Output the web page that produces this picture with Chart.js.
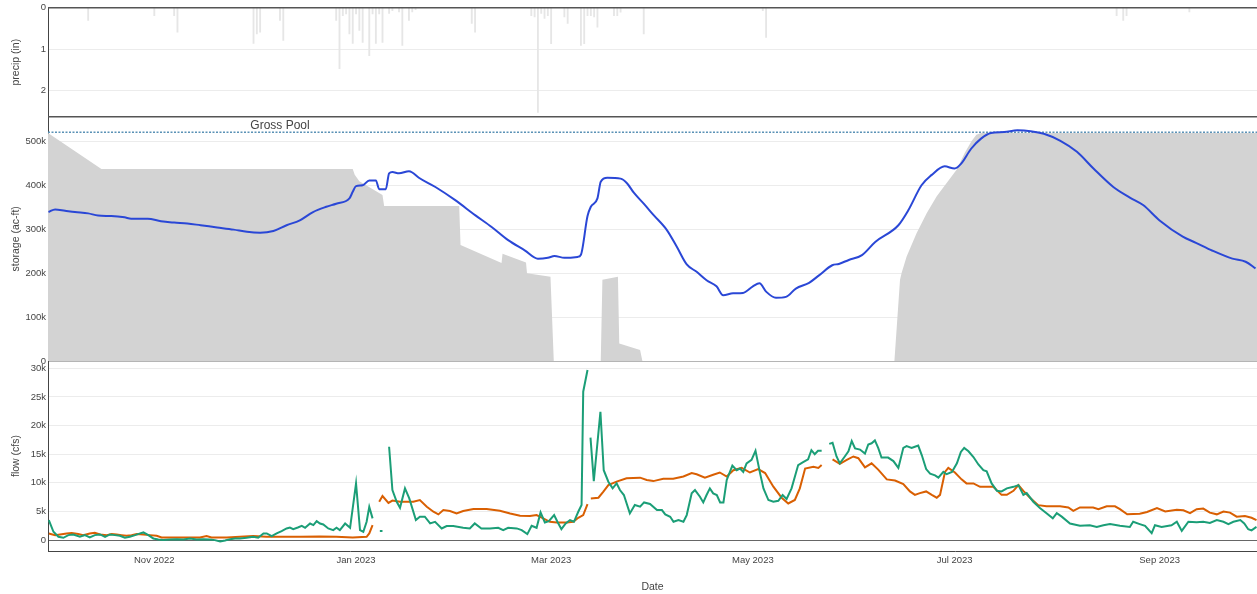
<!DOCTYPE html>
<html>
<head>
<meta charset="utf-8">
<script src="https://cdn.jsdelivr.net/npm/chart.js@4.4.0/dist/chart.umd.min.js"></script>
<style>
  html, body { margin: 0; padding: 0; background: #ffffff; }
  #wrap { width: 1257px; height: 594px; position: relative; }
</style>
</head>
<body>
<div id="wrap"><canvas id="c"></canvas></div>
<script>
// Water year 2023. Every x value is a day count from 1 Oct 2022.
const monthTickDays   = [31, 92, 151, 212, 273, 335];
const monthTickLabels = ['Nov 2022', 'Jan 2023', 'Mar 2023', 'May 2023', 'Jul 2023', 'Sep 2023'];

const precipTicks  = [0, 1, 2];
const storageTicks = [0, 100000, 200000, 300000, 400000, 500000];
const flowTicks    = [0, 5000, 10000, 15000, 20000, 25000, 30000];

// Daily precipitation (in)
const precipDay = [11, 31, 37, 38, 61, 62, 63, 69, 70, 86, 87, 88, 89, 90, 91, 92, 93, 94, 96, 97,
  98, 99, 100, 102, 103, 105, 106, 108, 109, 110, 127, 128, 145, 146, 147, 148, 149, 150, 151, 155,
  156, 160, 161, 162, 163, 164, 165, 170, 171, 172, 179, 215, 216, 322, 324, 325, 344];
const precipIn = [0.31, 0.19, 0.19, 0.59, 0.86, 0.63, 0.59, 0.31, 0.79, 0.31, 1.47, 0.19, 0.15, 0.63, 0.86, 0.15, 0.55, 0.84, 1.16, 0.15,
  0.86, 0.15, 0.84, 0.14, 0.07, 0.10, 0.91, 0.31, 0.10, 0.05, 0.38, 0.59, 0.19, 0.22, 2.53, 0.14, 0.26, 0.19, 0.87, 0.22,
  0.38, 0.91, 0.87, 0.19, 0.19, 0.22, 0.47, 0.19, 0.19, 0.11, 0.63, 0.07, 0.72, 0.19, 0.31, 0.19, 0.10];

// Reservoir storage (ac-ft)
const storageDay = [-1, 1, 4, 7, 11, 14, 18, 22, 24, 29, 33, 37, 41, 45, 50, 55, 59, 63, 67, 71,
  75, 79, 83, 86, 90, 91, 92, 94, 96, 98, 99, 101, 102, 103, 105, 108, 109, 111, 116, 122,
  128, 133, 138, 143, 147, 150, 152, 155, 159, 160, 162, 163, 165, 166, 168, 172, 174, 176, 179, 182,
  186, 189, 192, 195, 198, 201, 203, 206, 209, 212, 214, 216, 219, 222, 225, 229, 232, 236, 238, 241,
  245, 249, 256, 259, 263, 266, 270, 273, 275, 278, 281, 284, 288, 292, 296, 300, 305, 310, 315, 321,
  326, 330, 335, 342, 346, 351, 357, 361, 364];
const storageAf = [339000, 345000, 342000, 339000, 336000, 331000, 330000, 327000, 324000, 324000,
  318000, 315000, 313000, 309000, 304000, 299000, 294000, 292000, 296000, 309000,
  320000, 339000, 351000, 358000, 370000, 385000, 398000, 400000, 411000, 411000,
  391000, 391000, 427000, 430000, 427000, 432000, 429000, 417000, 396000, 366000,
  332000, 305000, 275000, 252000, 233000, 235000, 239000, 235000, 237000, 242000,
  330000, 351000, 370000, 408000, 417000, 415000, 404000, 383000, 358000, 332000,
  298000, 260000, 220000, 203000, 184000, 170000, 150000, 154000, 155000, 170000,
  177000, 158000, 144000, 146000, 165000, 178000, 195000, 218000, 221000, 230000,
  241000, 271000, 309000, 343000, 400000, 423000, 443000, 438000, 449000, 483000,
  506000, 519000, 521000, 525000, 523000, 517000, 501000, 476000, 438000, 396000,
  372000, 355000, 320000, 283000, 269000, 251000, 233000, 226000, 211000];

// Top of conservation pool (ac-ft), shaded from zero
const conservationDay = [-1.2, 15, 91, 91.6, 93, 100, 100.5, 123.2, 123.6, 136, 136.3, 143.4, 143.7, 150.8, 151.8,
  166, 166.5, 171.2, 171.6, 177.9, 178.6, 254.8, 256.5, 257, 258.5, 261.5, 264.6, 267.6, 270.6, 273.6,
  276.1, 278.1, 279.6, 281, 365];
const conservationAf = [519000, 437000, 437000, 424000, 409000, 378000, 353000, 353000, 264000, 223000, 244000, 224000, 200000, 192000, 0,
  0, 185000, 192000, 40000, 25000, 0, 0, 185000, 201000, 238000, 291000, 337000, 375000, 405000, 435000,
  474000, 500000, 515000, 519000, 519000];

const grossPoolAf = 520500;
const grossPoolLabel = 'Gross Pool';
const grossPoolLabelDay = 69;

// Inflow (cfs); null marks missing days
const inflowDay = [-0.9, 0.5, 2, 3.5, 5, 6.5, 8.5, 10, 11.5, 13, 14.6, 16.1, 17.6, 19.1, 20.6, 22.1, 23.6, 25.2, 26.7, 27.7,
  29.2, 30.7, 32.2, 33.7, 35.7, 37.8, 39.8, 41.8, 43.8, 45.8, 47.8, 49.3, 50.9, 52.4, 53.9, 55.4, 56.9, 58.9, 60.9, 62.4,
  64, 65, 66.5, 68, 69.5, 71, 72, 73, 74.4, 75.6, 76.6, 78.1, 79.1, 80.1, 81.1, 82.1, 83.6, 85.1, 86.1, 87.1,
  88.7, 90.2, 92, 93.2, 94.2, 95.2, 96, 97, 98, 99.2, 100, 101, 102, 103, 104.3, 105.3, 106.8, 108.1, 110.1, 111.3,
  112.8, 114.4, 115.9, 117.9, 119.4, 121.4, 124.4, 126.4, 127.9, 129.9, 132.5, 135, 136.5, 138, 140.6, 142.1, 143.8, 145.1, 146.6, 147.8,
  149.1, 150.3, 151.9, 152.9, 154.1, 155.4, 156.7, 157.9, 159.2, 160.2, 160.7, 162, 162.5, 162.9, 163.9, 165.9, 166.9, 168.3, 169.6, 170.8,
  171.8, 173, 174.8, 176.3, 177.9, 179.1, 180.9, 183, 184.5, 185.5, 187, 188, 189.5, 191, 192, 193.5, 194.5, 196, 197, 198,
  199, 200, 201.1, 202.1, 203.1, 204.1, 205.8, 207.1, 208.1, 209.1, 210.1, 211.6, 212.8, 214.2, 215.2, 216.7, 218.2, 219.7, 221, 222.2,
  223.7, 225.7, 227.2, 228.7, 229.7, 230.7, 231.7, 232.8, 234, 235.1, 236.1, 237.3, 238.3, 239.8, 240.9, 241.9, 242.9, 244.4, 245.9, 246.9,
  247.9, 248.9, 249.9, 250.9, 252.9, 254.5, 256, 257.5, 258.5, 260, 261, 262, 263.1, 264.4, 265.6, 267.1, 268.1, 269.6, 270.6, 272.2,
  273.7, 274.9, 275.9, 277.2, 278.7, 280.2, 281.7, 282.7, 284.2, 285.8, 287.2, 288.8, 290.8, 292.3, 293.8, 294.8, 296.8, 298.8, 300.8, 302.7,
  303.9, 305.4, 307.9, 310.9, 313.9, 316, 318, 320, 323, 326, 327, 329, 330.6, 332.6, 333.6, 335.6, 338.6, 340.2, 341.7, 343.7,
  346.2, 348.2, 350.2, 352.3, 354.3, 355.8, 357.3, 359.4, 360.6, 361.8, 362.8, 364.3];
const inflowCfs = [3500, 1460, 580, 410, 870, 990, 580, 870, 470, 870, 990, 580, 990, 870, 760, 410, 580, 870, 1170, 1340,
  870, 290, 120, 0, 120, 170, 120, 290, 120, 170, 120, 0, -230, -60, 170, 290, 290, 410, 580, 410,
  1170, 1170, 700, 1170, 1570, 2040, 2200, 1920, 2200, 2500, 2150, 2900, 2620, 3320, 2900, 2740, 2040, 1750, 2150, 1750,
  2900, 2150, 9900, 1750, 1460, 3200, 5800, 3790, null, 1600, 1600, null, 16300, 8740, 6700, 5650, 9030, 7280, 3500, 4080,
  4080, 2910, 3200, 2040, 2450, 2450, 2150, 2040, 2910, 2040, 2040, 2150, 1750, 2150, 2040, 1750, 1050, 2500, 2150, 4830,
  3090, 3320, 4370, 3200, 1920, 2910, 3500, 3200, 4950, 6120, 25900, 29700, null, 17900, 10300, 22400, 12200, 10200, 9030, 9900,
  8740, 7870, 4660, 6120, 5830, 6580, 6300, 5240, 5240, 4490, 4080, 3210, 3500, 3210, 4370, 8160, 8740, 7580, 6580, 7870,
  9030, 8160, 7870, 6580, 6580, 10500, 13000, 12200, 12500, 11900, 13400, 14000, 15600, 11600, 9030, 6990, 6700, 6870, 7870, 7170,
  9030, 13100, 13600, 14100, 15700, 15000, 15600, 15600, null, 16800, 17000, 14600, 13400, 14600, 15500, 17300, 16000, 15800, 15100, 16700,
  16900, 17400, 16100, 14400, 14400, 13800, 12600, 16100, 16400, 16100, 16300, 16500, 14800, 12400, 11600, 11300, 10900, 11900, 11500, 11900,
  13400, 15400, 16100, 15500, 14500, 13200, 12200, 12000, 9900, 8600, 8500, 9030, 9300, 9600, 7900, 8200, 6700, 5600, 4700, 3800,
  4700, 4100, 2900, 2500, 2600, 2300, 2600, 2800, 2500, 2300, 3200, 2800, 2500, 1200, 2600, 2300, 2600, 3200, 1600, 3200,
  3100, 3200, 3000, 3500, 3200, 2800, 3200, 3500, 2900, 1900, 1700, 2300];

// Outflow (cfs); null marks missing days
const outflowDay = [-0.9, 1, 2.5, 4.5, 6, 8, 9.5, 11.5, 13, 14.6, 16.6, 18.1, 19.6, 21.1, 22.6, 24.1, 25.7, 27.7, 29.7, 31.7,
  33.2, 44.8, 46.8, 48.3, 52.9, 56.9, 60.9, 64.9, 70, 75, 81, 86, 91, 95.2, 96, 97, 98, 99, 100, 101.8,
  103, 105.3, 109.3, 111.3, 113.4, 115.4, 116.9, 118.4, 120.4, 122.4, 124.4, 127.5, 131.5, 135.5, 138.6, 141.6, 144.6, 146.6, 148.6, 150.6,
  152.7, 155.7, 157.7, 159.2, 160.7, 162, 162.5, 163, 165.3, 166.8, 168.3, 170.8, 173.8, 177.9, 179.9, 181.9, 184.9, 187.9, 191, 193.5,
  195, 197.5, 200, 202, 204.1, 206.1, 208.6, 211.1, 213.6, 215.7, 218.2, 220.7, 222.7, 224.7, 226.2, 227.8, 230.3, 231.8, 232.8, 234,
  236.1, 238.3, 240.4, 242.4, 243.9, 245.9, 247.9, 249.9, 252.5, 255, 257.5, 259.5, 261, 262.5, 264.4, 266.1, 267.6, 268.6, 270.1, 271.1,
  273.1, 275.1, 276.6, 278.7, 280.7, 282.7, 284.7, 287.2, 288.8, 290.8, 292.3, 293.8, 295.8, 298.3, 300.8, 304.9, 307.4, 308.9, 310.9, 314.9,
  316.5, 319, 321.5, 323, 325.2, 329, 331.2, 334.2, 336.7, 340.2, 342.2, 344.2, 346.2, 348.2, 350.2, 352.3, 354.3, 356.3, 358.3, 360.8,
  362.8, 364.3];
const outflowCfs = [1170, 870, 990, 1170, 1220, 1050, 870, 1170, 1280, 990, 870, 1050, 990, 870, 760, 870, 1050, 990, 870, 760,
  470, 470, 700, 470, 470, 580, 700, 580, 580, 580, 640, 580, 470, 580, 1170, 2620, null, 6700, 7700, 6500,
  6900, 6700, 6700, 6990, 5830, 4950, 4490, 5240, 5070, 4660, 5070, 5420, 5420, 5130, 4660, 4250, 4200, 4370, 3790, 3200,
  3090, 3090, 3200, 3900, 4370, 6300, null, 7280, 7400, 8450, 9610, 10200, 10800, 10900, 10500, 10300, 10700, 10700, 11100, 11700,
  11500, 10900, 11400, 11800, 11100, 12200, 12600, 11800, 12400, 11700, 9320, 7400, 6400, 7000, 9030, 12500, 12800, 12600, 13100, null,
  14100, 13300, 14000, 14600, 14300, 12700, 13400, 12300, 10600, 10400, 9800, 8500, 7900, 8200, 8500, 7900, 7400, 7900, 11900, 12600,
  11800, 10600, 9900, 9900, 9300, 9300, 9300, 7900, 7900, 8600, 9600, 8600, 7400, 6100, 5900, 5900, 5700, 5100, 5700, 5700,
  5400, 5900, 5900, 5400, 4500, 4600, 4900, 5600, 5000, 5300, 5200, 4700, 5400, 5500, 4800, 4500, 5000, 4800, 4100, 4200,
  3900, 3500];

const dayMin = -1.15;
const dayMax = 364.45;

const FONT = "'Liberation Sans', Arial, Helvetica, sans-serif";
const TEXT = '#444444';
const GRID = '#ececec';

const xy = (xs, ys) => xs.map((x, i) => ({ x: x, y: ys[i] }));
const kLabel = v => (v === 0 ? '0' : (v / 1000) + 'k');
const fixedTicks = list => scale => { scale.ticks = list.map(v => ({ value: v })); };
const leftWidth = scale => { scale.width = 48; };

function yAxis(opts) {
  return Object.assign({
    type: 'linear',
    position: 'left',
    stack: 'panels',
    offset: false,
    afterFit: leftWidth,
    grid: { color: GRID, drawTicks: false, lineWidth: 1 },
    border: { display: true, color: '#444444', width: 1 },
    ticks: { padding: 2, color: TEXT, font: { family: FONT, size: 9.5 } },
  }, opts);
}

// Frame lines around the precipitation panel and the gross-pool caption
const panelFrame = {
  id: 'panelFrame',
  afterDraw(chart) {
    const { ctx, scales } = chart;
    const xs = scales.x, p = scales.yP, s = scales.yS;
    ctx.save();
    ctx.strokeStyle = '#555555';
    ctx.lineWidth = 1.5;
    [p.top, p.bottom].forEach(y => {
      ctx.beginPath();
      ctx.moveTo(xs.left, y);
      ctx.lineTo(xs.right, y);
      ctx.stroke();
    });
    ctx.fillStyle = TEXT;
    ctx.font = '12px ' + FONT;
    ctx.textAlign = 'center';
    ctx.textBaseline = 'alphabetic';
    ctx.fillText(grossPoolLabel, xs.getPixelForValue(grossPoolLabelDay), s.getPixelForValue(grossPoolAf) - 3);
    ctx.restore();
  }
};

new Chart(document.getElementById('c'), {
  type: 'line',
  data: {
    datasets: [
      {
        label: 'storage',
        data: xy(storageDay, storageAf),
        yAxisID: 'yS',
        borderColor: '#2a47d6',
        borderWidth: 2,
        pointRadius: 0,
        cubicInterpolationMode: 'monotone',
        order: 0
      },
      {
        label: 'inflow',
        data: xy(inflowDay, inflowCfs),
        yAxisID: 'yF',
        borderColor: '#1b9e77',
        borderWidth: 2,
        pointRadius: 0,
        tension: 0,
        spanGaps: false,
        order: 1
      },
      {
        label: 'outflow',
        data: xy(outflowDay, outflowCfs),
        yAxisID: 'yF',
        borderColor: '#d95f02',
        borderWidth: 2,
        pointRadius: 0,
        tension: 0,
        spanGaps: false,
        order: 2
      },
      {
        label: grossPoolLabel,
        data: xy([dayMin, dayMax], [grossPoolAf, grossPoolAf]),
        yAxisID: 'yS',
        borderColor: '#5b92b6',
        borderWidth: 1.5,
        borderDash: [2, 1.5],
        pointRadius: 0,
        order: 3
      },
      {
        label: 'conservation',
        data: xy(conservationDay, conservationAf),
        yAxisID: 'yS',
        borderWidth: 0,
        borderColor: 'rgba(0,0,0,0)',
        backgroundColor: '#d3d3d3',
        fill: 'origin',
        pointRadius: 0,
        tension: 0,
        order: 4
      },
      {
        type: 'bar',
        label: 'precip',
        data: xy(precipDay, precipIn),
        yAxisID: 'yP',
        backgroundColor: '#e6e6e6',
        barThickness: 1.2,
        order: 5
      }
    ]
  },
  options: {
    responsive: true,
    maintainAspectRatio: false,
    devicePixelRatio: 1,
    animation: false,
    events: [],
    layout: { padding: { top: 7, left: 0, right: 0, bottom: 0 } },
    plugins: {
      legend: { display: false },
      tooltip: { enabled: false }
    },
    scales: {
      x: {
        type: 'linear',
        position: 'bottom',
        min: dayMin,
        max: dayMax,
        offset: false,
        afterBuildTicks: fixedTicks(monthTickDays),
        afterFit: scale => { scale.height = 43; },
        grid: { display: false, drawTicks: false },
        border: { display: true, color: '#444444', width: 1 },
        ticks: {
          autoSkip: false,
          maxRotation: 0,
          padding: 4,
          color: TEXT,
          font: { family: FONT, size: 9.5 },
          callback: (v, i) => monthTickLabels[i]
        },
        title: {
          display: true,
          text: 'Date',
          color: TEXT,
          font: { family: FONT, size: 10.5 },
          padding: { top: 0, bottom: 1 }
        }
      },
      yP: yAxis({
        weight: 3,
        stackWeight: 109,
        reverse: true,
        min: 0,
        max: 2.63,
        afterBuildTicks: fixedTicks(precipTicks),
        ticks: { padding: 2, color: TEXT, font: { family: FONT, size: 9.5 }, callback: v => String(v) },
        title: { display: true, text: 'precip (in)', color: TEXT, font: { family: FONT, size: 10.5 }, padding: { top: 10, bottom: 0 } }
      }),
      yS: yAxis({
        weight: 2,
        stackWeight: 244.5,
        min: 0,
        max: 556000,
        afterBuildTicks: fixedTicks(storageTicks),
        grid: { drawTicks: false, lineWidth: 1, color: ctx => (ctx.tick && ctx.tick.value === 0 ? '#b5b5b5' : GRID) },
        ticks: { padding: 2, color: TEXT, font: { family: FONT, size: 9.5 }, callback: kLabel },
        title: { display: true, text: 'storage (ac-ft)', color: TEXT, font: { family: FONT, size: 10.5 }, padding: { top: 10, bottom: 0 } }
      }),
      yF: yAxis({
        weight: 1,
        stackWeight: 190,
        min: -1900,
        max: 31250,
        afterBuildTicks: fixedTicks(flowTicks),
        grid: { drawTicks: false, lineWidth: 1, color: ctx => (ctx.tick && ctx.tick.value === 0 ? '#666666' : GRID) },
        ticks: { padding: 2, color: TEXT, font: { family: FONT, size: 9.5 }, callback: kLabel },
        title: { display: true, text: 'flow (cfs)', color: TEXT, font: { family: FONT, size: 10.5 }, padding: { top: 10, bottom: 0 } }
      })
    }
  },
  plugins: [panelFrame]
});
</script>
</body>
</html>
